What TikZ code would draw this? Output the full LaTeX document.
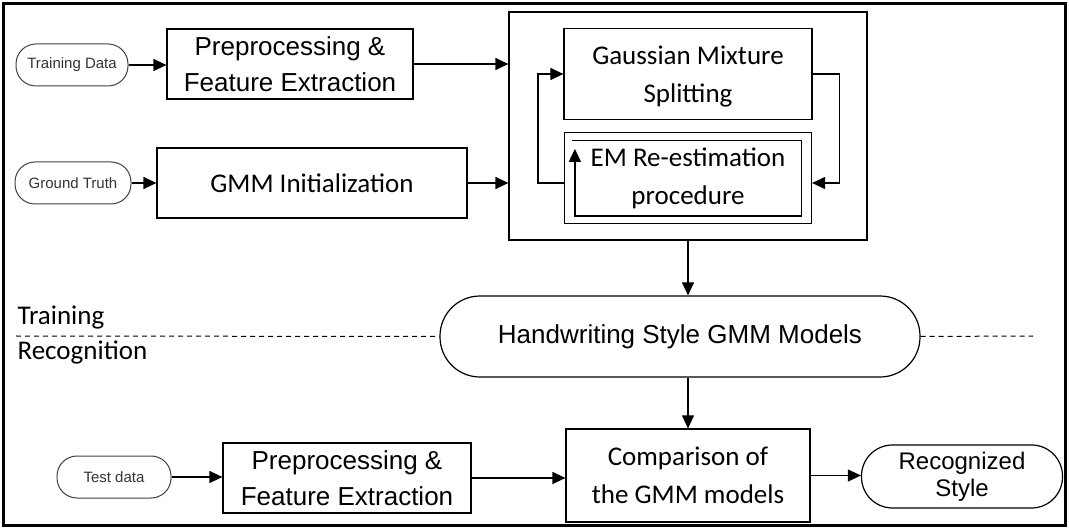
\documentclass[tikz,border=0pt]{standalone}
\usepackage{fontspec}
\setmainfont{Liberation Sans}
\newfontfamily\calib{Carlito}
\usetikzlibrary{arrows.meta}

\begin{document}
\begin{tikzpicture}[x=1pt, y=-1pt, line width=1.2pt,
    >={Triangle[length=13pt,width=12pt]},
    procbox/.style={draw, minimum height=70pt, inner sep=0pt, align=center, font=\fontsize{26}{36}\selectfont},
    cbox/.style={draw, inner sep=0pt, align=center, font=\calib\fontsize{27}{38}\selectfont},
    pill/.style={draw=black!75, line width=1pt, rounded corners=20pt, minimum width=112pt, minimum height=42pt, text=black!80, font=\fontsize{15}{15}\selectfont},
    lbl/.style={anchor=base west, inner sep=0pt, font=\calib\fontsize{27}{27}\selectfont}]
    \useasboundingbox (0,0) rectangle (1069,529);

    % outer frame
    \draw[line width=3pt] (3.5,3.5) rectangle (1065.5,525.5);

    % training inputs
    \node[pill] (tdata) at (72,65) {Training Data};
    \node[procbox, minimum width=246pt] (prep1) at (290,64) {Preprocessing \&\\Feature Extraction};
    \node[pill, minimum width=116pt] (gtruth) at (73,183) {Ground Truth};
    \node[cbox, minimum width=310pt, minimum height=70pt] (init) at (312,183) {GMM Initialization};

    % splitting and re-estimation
    \node[draw, minimum width=358pt, minimum height=228pt] (gmmbox) at (688,126) {};
    \node[cbox, minimum width=248pt, minimum height=91pt] (split) at (688,74) {\rule{0pt}{24pt}Gaussian Mixture\\Splitting};
    \node[cbox, minimum width=247pt, minimum height=91pt] (em) at (688,178) {EM Re-estimation\\procedure};
    \draw[->] ([shift={(8,9)}]em.north west) -- ([shift={(-11,9)}]em.north east)
        -- ([shift={(-11,-8)}]em.south east) -- ([shift={(11,-8)}]em.south west)
        -- ([shift={(11,17)}]em.north west);

    % models
    \node[draw, rounded corners=40pt, minimum width=480pt, minimum height=81pt,
        font=\fontsize{26}{26}\selectfont] (models) at (680,336.5) {Handwriting Style GMM Models};

    % recognition side
    \node[pill, minimum width=114pt] (testd) at (114,477) {Test data};
    \node[procbox, minimum width=248pt] (prep2) at (347,478) {Preprocessing \&\\Feature Extraction};
    \node[cbox, minimum width=244pt, minimum height=93pt] (compare) at (688,475.5) {Comparison of\\the GMM models};
    \node[draw, rounded corners=31pt, minimum width=201pt, minimum height=63pt, align=center,
        font=\fontsize{24}{27}\selectfont] (result) at (962,476.5) {Recognized\\Style};

    % training / recognition split
    \coordinate (dl) at (16,336);
    \coordinate (dr) at (1033,336);
    \draw[line width=1pt, dash pattern=on 5pt off 4pt] (dl) -- (models.west);
    \draw[line width=1pt, dash pattern=on 5pt off 4pt] (models.east) -- (dr);
    \node[lbl] (trainlbl) at (17,325) {Training};
    \node[lbl] (reclbl) at (17,360) {Recognition};

    % arrows
    \draw[->] (tdata.east) -- (tdata.east -| prep1.west);
    \draw[->] (prep1.east) -- (prep1.east -| gmmbox.west);
    \draw[->] (gtruth.east) -- (gtruth.east -| init.west);
    \draw[->] (init.east) -- (init.east -| gmmbox.west);
    \draw[->] ([yshift=-5pt]em.west) -- ++(-26,0) |- (split.west);
    \draw[->] (split.east) -- ++(27,0) |- ([yshift=-5pt]em.east);
    \draw[->] (gmmbox.south) -- (gmmbox.south |- models.north);
    \draw[->] (models.south -| compare.north) -- (compare.north);
    \draw[->] (testd.east) -- (testd.east -| prep2.west);
    \draw[->] (prep2.east) -- (prep2.east -| compare.west);
    \draw[->] (compare.east) -- (compare.east -| result.west);
\end{tikzpicture}
\end{document}
